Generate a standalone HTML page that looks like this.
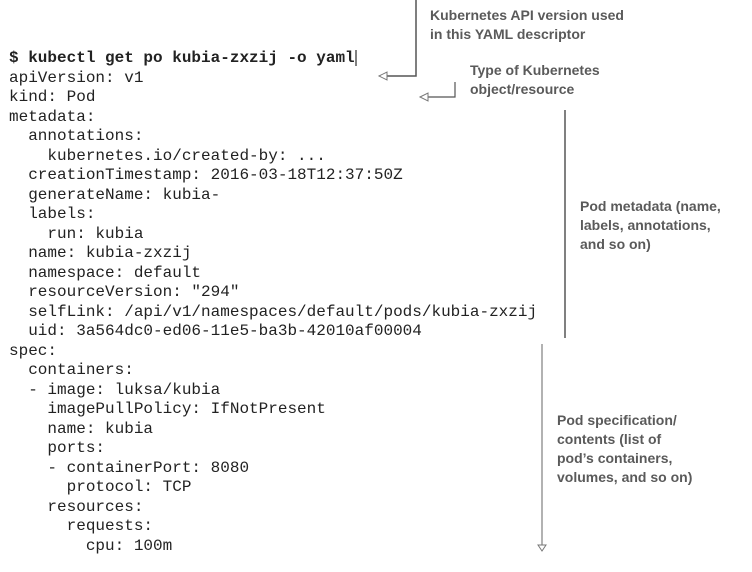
<!DOCTYPE html>
<html><head><style>
body{margin:0;width:752px;height:572px;background:#fff;position:relative;overflow:hidden}
pre{position:absolute;left:9px;top:49px;margin:0;font-family:"Liberation Mono",monospace;font-size:16px;line-height:19.52px;color:#222}
.l{position:absolute;font-family:"Liberation Sans Narrow","Liberation Sans",sans-serif;font-weight:bold;font-size:14px;line-height:19px;color:#5a5a5a}
</style></head><body>
<pre><b>$ kubectl get po kubia-zxzij -o yaml</b>
apiVersion: v1
kind: Pod
metadata:
  annotations:
    kubernetes.io/created-by: ...
  creationTimestamp: 2016-03-18T12:37:50Z
  generateName: kubia-
  labels:
    run: kubia
  name: kubia-zxzij
  namespace: default
  resourceVersion: "294"
  selfLink: /api/v1/namespaces/default/pods/kubia-zxzij
  uid: 3a564dc0-ed06-11e5-ba3b-42010af00004
spec:
  containers:
  - image: luksa/kubia
    imagePullPolicy: IfNotPresent
    name: kubia
    ports:
    - containerPort: 8080
      protocol: TCP
    resources:
      requests:
        cpu: 100m</pre>
<svg width="752" height="572" style="position:absolute;left:0;top:0">
<line x1="356" y1="50" x2="356" y2="66" stroke="#000" stroke-width="1"/>
<polyline points="416,0 416,76 386,76" fill="none" stroke="#555" stroke-width="1.5"/>
<polygon points="379,76 387,72 387,80" fill="#fff" stroke="#777"/>
<polyline points="455,82 455,97 428,97" fill="none" stroke="#555" stroke-width="1.2"/>
<polygon points="420,97 428,93 428,101" fill="#fff" stroke="#777"/>
<line x1="565" y1="110" x2="565" y2="338" stroke="#000" stroke-width="1"/>
<line x1="542" y1="344" x2="542" y2="545" stroke="#666" stroke-width="1"/>
<polygon points="542,551 538,545 546,545" fill="#fff" stroke="#777"/>
</svg>
<div class="l" style="left:430px;top:6px">Kubernetes API version used<br>in this YAML descriptor</div>
<div class="l" style="left:470px;top:61px">Type of Kubernetes<br>object/resource</div>
<div class="l" style="left:580px;top:197px">Pod metadata (name,<br>labels, annotations,<br>and so on)</div>
<div class="l" style="left:557px;top:411px">Pod specification/<br>contents (list of<br>pod’s containers,<br>volumes, and so on)</div>
</body></html>
